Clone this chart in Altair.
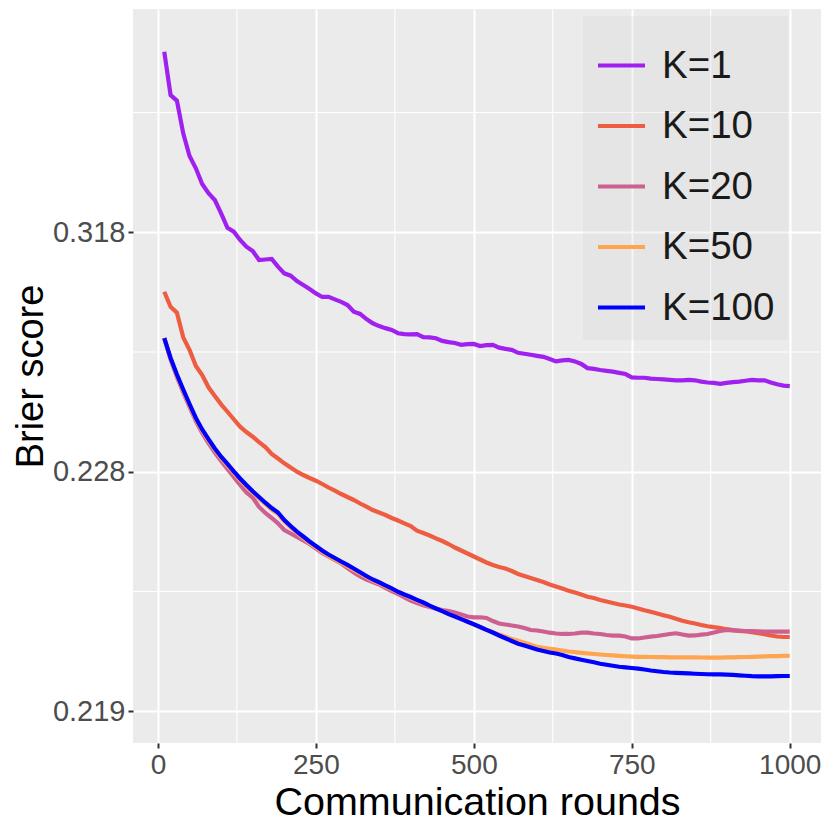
import altair as alt
import pandas as pd

ROUNDS = [10, 20, 30, 40, 50, 60, 70, 80, 90, 100,
          110, 120, 130, 140, 150, 160, 170, 180, 190, 200,
          210, 220, 230, 240, 250, 260, 270, 280, 290, 300,
          310, 320, 330, 340, 350, 360, 370, 380, 390, 400,
          410, 420, 430, 440, 450, 460, 470, 480, 490, 500,
          510, 520, 530, 540, 550, 560, 570, 580, 590, 600,
          610, 620, 630, 640, 650, 660, 670, 680, 690, 700,
          710, 720, 730, 740, 750, 760, 770, 780, 790, 800,
          810, 820, 830, 840, 850, 860, 870, 880, 890, 900,
          910, 920, 930, 940, 950, 960, 970, 980, 990, 1000]

K1 = [0.7855, 0.5921, 0.5724, 0.4770, 0.4263, 0.4030, 0.3771, 0.3635, 0.3544, 0.3380,
      0.3225, 0.3186, 0.3109, 0.3051, 0.3015, 0.2946, 0.2950, 0.2954, 0.2899, 0.2854,
      0.2839, 0.2806, 0.2783, 0.2760, 0.2736, 0.2717, 0.2718, 0.2705, 0.2692, 0.2677,
      0.2646, 0.2636, 0.2614, 0.2597, 0.2586, 0.2578, 0.2571, 0.2559, 0.2556, 0.2555,
      0.2556, 0.2545, 0.2544, 0.2541, 0.2532, 0.2528, 0.2525, 0.2519, 0.2521, 0.2522,
      0.2515, 0.2518, 0.2519, 0.2510, 0.2506, 0.2503, 0.2494, 0.2491, 0.2488, 0.2485,
      0.2482, 0.2476, 0.2469, 0.2472, 0.2473, 0.2469, 0.2462, 0.2451, 0.2449, 0.2446,
      0.2444, 0.2442, 0.2439, 0.2436, 0.2428, 0.2427, 0.2427, 0.2425, 0.2424, 0.2423,
      0.2422, 0.2421, 0.2421, 0.2422, 0.2421, 0.2418, 0.2416, 0.2415, 0.2413, 0.2415,
      0.2417, 0.2418, 0.2420, 0.2422, 0.2421, 0.2421, 0.2416, 0.2412, 0.2409, 0.2408]

K10 = [0.274490, 0.266910, 0.264170, 0.254430, 0.250270, 0.245660, 0.243360, 0.240530, 0.238730, 0.237130,
       0.235810, 0.234570, 0.233430, 0.232660, 0.232010, 0.231310, 0.230690, 0.229870, 0.229360, 0.228850,
       0.228420, 0.228010, 0.227696, 0.227421, 0.227179, 0.226894, 0.226598, 0.226339, 0.226078, 0.225849,
       0.225626, 0.225372, 0.225150, 0.224926, 0.224762, 0.224601, 0.224414, 0.224262, 0.224095, 0.223939,
       0.223676, 0.223552, 0.223420, 0.223276, 0.223141, 0.222994, 0.222829, 0.222692, 0.222559, 0.222429,
       0.222303, 0.222181, 0.222083, 0.222005, 0.221947, 0.221853, 0.221744, 0.221673, 0.221603, 0.221534,
       0.221467, 0.221384, 0.221320, 0.221257, 0.221188, 0.221133, 0.221074, 0.221009, 0.220972, 0.220915,
       0.220874, 0.220833, 0.220792, 0.220766, 0.220734, 0.220687, 0.220641, 0.220603, 0.220561, 0.220520,
       0.220483, 0.220436, 0.220390, 0.220355, 0.220326, 0.220293, 0.220266, 0.220245, 0.220228, 0.220202,
       0.220181, 0.220164, 0.220158, 0.220138, 0.220117, 0.220099, 0.220073, 0.220053, 0.220043, 0.220043]

K20 = [0.254190, 0.247440, 0.242880, 0.239440, 0.236650, 0.234300, 0.232520, 0.231190, 0.230040, 0.229100,
       0.228270, 0.227512, 0.226810, 0.226196, 0.225811, 0.225129, 0.224730, 0.224414, 0.224095, 0.223715,
       0.223526, 0.223343, 0.223166, 0.222994, 0.222782, 0.222581, 0.222429, 0.222282, 0.222141, 0.221966,
       0.221797, 0.221654, 0.221551, 0.221467, 0.221384, 0.221272, 0.221179, 0.221089, 0.220987, 0.220902,
       0.220833, 0.220771, 0.220726, 0.220687, 0.220649, 0.220623, 0.220586, 0.220537, 0.220488, 0.220469,
       0.220469, 0.220453, 0.220382, 0.220326, 0.220303, 0.220281, 0.220260, 0.220227, 0.220185, 0.220175,
       0.220154, 0.220129, 0.220113, 0.220103, 0.220103, 0.220113, 0.220129, 0.220129, 0.220113, 0.220103,
       0.220083, 0.220069, 0.220069, 0.220053, 0.220014, 0.220014, 0.220033, 0.220049, 0.220063, 0.220083,
       0.220103, 0.220117, 0.220093, 0.220069, 0.220073, 0.220089, 0.220103, 0.220133, 0.220164, 0.220185,
       0.220179, 0.220171, 0.220164, 0.220160, 0.220156, 0.220152, 0.220150, 0.220150, 0.220150, 0.220150]

K50 = [0.254190, 0.247580, 0.243120, 0.239750, 0.236910, 0.234540, 0.232810, 0.231510, 0.230330, 0.229400,
       0.228620, 0.227904, 0.227243, 0.226684, 0.226173, 0.225737, 0.225323, 0.224960, 0.224665, 0.224202,
       0.223853, 0.223552, 0.223292, 0.223043, 0.222829, 0.222625, 0.222451, 0.222303, 0.222161, 0.222024,
       0.221890, 0.221762, 0.221638, 0.221516, 0.221423, 0.221326, 0.221231, 0.221140, 0.221059, 0.220972,
       0.220896, 0.220821, 0.220749, 0.220682, 0.220615, 0.220554, 0.220493, 0.220434, 0.220376, 0.220303,
       0.220244, 0.220189, 0.220137, 0.220091, 0.220047, 0.220006, 0.219968, 0.219932, 0.219895, 0.219859,
       0.219841, 0.219824, 0.219808, 0.219794, 0.219777, 0.219765, 0.219755, 0.219745, 0.219735, 0.219726,
       0.219718, 0.219711, 0.219705, 0.219698, 0.219693, 0.219688, 0.219687, 0.219685, 0.219683, 0.219682,
       0.219680, 0.219680, 0.219680, 0.219679, 0.219678, 0.219677, 0.219676, 0.219676, 0.219676, 0.219678,
       0.219679, 0.219682, 0.219685, 0.219688, 0.219691, 0.219695, 0.219698, 0.219701, 0.219705, 0.219706]

K100 = [0.254190, 0.247870, 0.243480, 0.240070, 0.237190, 0.234780, 0.233020, 0.231700, 0.230510, 0.229560,
        0.228780, 0.228050, 0.227376, 0.226810, 0.226291, 0.225849, 0.225430, 0.225060, 0.224762, 0.224291,
        0.223939, 0.223630, 0.223369, 0.223117, 0.222899, 0.222692, 0.222515, 0.222366, 0.222221, 0.222083,
        0.221947, 0.221805, 0.221673, 0.221551, 0.221457, 0.221358, 0.221257, 0.221155, 0.221074, 0.221001,
        0.220921, 0.220846, 0.220760, 0.220687, 0.220618, 0.220549, 0.220488, 0.220425, 0.220366, 0.220308,
        0.220249, 0.220189, 0.220133, 0.220073, 0.220018, 0.219966, 0.219916, 0.219883, 0.219847, 0.219811,
        0.219786, 0.219760, 0.219743, 0.219718, 0.219685, 0.219664, 0.219642, 0.219622, 0.219602, 0.219580,
        0.219565, 0.219550, 0.219535, 0.219526, 0.219516, 0.219506, 0.219494, 0.219480, 0.219469, 0.219459,
        0.219452, 0.219448, 0.219444, 0.219439, 0.219435, 0.219431, 0.219428, 0.219427, 0.219427, 0.219423,
        0.219418, 0.219412, 0.219407, 0.219402, 0.219399, 0.219399, 0.219400, 0.219402, 0.219404, 0.219404]

SERIES = ["K=1", "K=10", "K=20", "K=50", "K=100"]
COLORS = ["#A020F0", "#EE5C42", "#CD6090", "#FFA54F", "#0000FF"]
X_TICKS = [0, 250, 500, 750, 1000]
X_MINOR = [125, 375, 625, 875]
# y axis: log10(Brier - 0.218) scale
Y_OFFSET = 0.218
Y_TICKS_T = [-3, -2, -1]
Y_MINOR_T = [-2.5, -1.5, -0.5]

rows = []
for name, vals in zip(SERIES, [K1, K10, K20, K50, K100]):
    for r, v in zip(ROUNDS, vals):
        rows.append({"round": r, "brier": v, "K": name})
df = pd.DataFrame(rows)

FONT = "Liberation Sans"
xscale = alt.Scale(domain=[-39.5, 1049.5], nice=False, zero=False)
yscale = alt.Scale(domain=[-3.1324, -0.0676], nice=False, zero=False)
xaxis = alt.Axis(values=X_TICKS, title="Communication rounds", grid=True, format="d",
                 labelFontSize=28, titleFontSize=39.5, titlePadding=4)
yaxis = alt.Axis(values=Y_TICKS_T, title="Brier score", grid=True,
                 labelExpr=f"format({Y_OFFSET} + pow(10, datum.value), '.3f')",
                 labelFontSize=29, titleFontSize=38, titlePadding=2)

minor_x = alt.Chart(pd.DataFrame({"round": X_MINOR})).mark_rule(
    color="white", strokeWidth=1.1
).encode(x=alt.X("round:Q", scale=xscale, axis=xaxis))

minor_y = alt.Chart(pd.DataFrame({"t": Y_MINOR_T})).mark_rule(
    color="white", strokeWidth=1.1
).encode(y=alt.Y("t:Q", scale=yscale, axis=yaxis))

color = alt.Color(
    "K:N",
    scale=alt.Scale(domain=SERIES, range=COLORS),
    legend=alt.Legend(
        title=" ", titleFontSize=9, titlePadding=2,
        orient="none", legendX=450, legendY=7,
        padding=13, fillColor="rgba(205,205,205,0.2)",
        symbolType="stroke", symbolSize=2209, symbolStrokeWidth=4,
        labelFontSize=38.5, labelFont=FONT, labelColor="#1A1A1A",
        labelOffset=15, rowPadding=15.5,
    ),
)

base = alt.Chart(df).transform_calculate(
    t=f"log(datum.brier - {Y_OFFSET}) / LN10"
).mark_line(strokeWidth=4.2, clip=True).encode(
    x=alt.X("round:Q", scale=xscale, axis=xaxis),
    y=alt.Y("t:Q", scale=yscale, axis=yaxis),
    color=color,
)

layers = [minor_x, minor_y] + [base.transform_filter(alt.datum.K == s) for s in SERIES]

chart = alt.layer(*layers).properties(
    width=688, height=734,
    autosize=alt.AutoSizeParams(type="none"),
    padding={"left": 125, "top": 1, "right": 1, "bottom": 79},
).configure_view(
    fill="#EBEBEB", stroke=None
).configure_axis(
    domain=False,
    gridColor="white", gridWidth=2.1,
    tickColor="#333333", tickSize=5, tickWidth=2,
    labelFont=FONT, labelColor="#4D4D4D", labelPadding=3,
    titleFont=FONT, titleColor="#000000", titleFontWeight="normal",
).configure_axisX(
    labelFlush=False,
)

chart.save("out.html", embed_options={"renderer": "svg", "actions": False})
